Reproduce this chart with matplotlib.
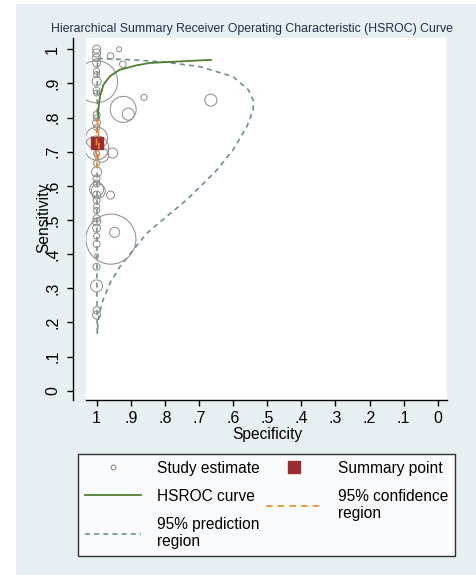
import numpy as np
import matplotlib
matplotlib.use("Agg")
import matplotlib.pyplot as plt
from matplotlib.patches import Rectangle
from matplotlib.lines import Line2D

plt.rcParams['font.family'] = ['Liberation Sans', 'DejaVu Sans']

# study estimates: specificity, sensitivity, marker radius (px)
study_spec = [1.0, 0.934, 0.959, 0.923, 1.0, 1.0, 1.0, 1.0, 1.0, 1.0, 1.0, 1.0, 1.0,
              0.861, 0.922, 0.907, 0.665, 1.0, 1.0, 1.0, 1.0, 1.0, 1.0, 0.953, 1.0,
              0.985, 1.0, 1.0, 1.0, 1.0, 1.0, 0.995, 1.0, 0.959, 1.0, 1.0, 1.0, 1.0,
              1.0, 1.0, 1.0, 0.958, 0.947, 1.0, 1.0, 1.0, 1.0, 1.0, 1.0]
study_sens = [1.0, 1.0, 0.98, 0.956, 0.989, 0.975, 0.96, 0.936, 0.926, 0.906, 0.905, 0.879, 0.872,
              0.859, 0.824, 0.81, 0.851, 0.808, 0.799, 0.784, 0.771, 0.74, 0.711, 0.696, 0.695,
              0.69, 0.666, 0.641, 0.622, 0.607, 0.59, 0.585, 0.573, 0.573, 0.558, 0.541, 0.528, 0.505,
              0.495, 0.476, 0.453, 0.444, 0.464, 0.43, 0.395, 0.363, 0.307, 0.236, 0.222]
study_r = [4, 2.5, 3.3, 3.3, 4, 4, 4, 3, 3, 4.5, 21, 3.5, 3,
           3, 13, 6, 6, 3.5, 3, 4, 3, 11, 12, 5, 3,
           7, 3, 5, 3.5, 3.5, 7, 7, 4, 4, 3.5, 3, 3, 3.5,
           4, 4, 3, 25, 5, 3.5, 2, 3.5, 6, 3.5, 4]

summary_spec = 0.999
summary_sens = 0.726

hsroc_spec = [0.995, 0.995, 0.99, 0.98, 0.961, 0.932, 0.883, 0.844, 0.765, 0.665]
hsroc_sens = [0.80, 0.823, 0.862, 0.896, 0.921, 0.94, 0.953, 0.96, 0.964, 0.969]

conf_spec = [0.999, 0.996, 0.994, 0.993, 0.994, 0.996, 0.999, 1.0, 1.0, 1.0, 1.0, 1.0, 0.999]
conf_sens = [0.795, 0.78, 0.755, 0.726, 0.695, 0.67, 0.655, 0.67, 0.70, 0.726, 0.755, 0.78, 0.795]

pred_spec = [0.997, 0.971, 0.893, 0.795, 0.697, 0.6, 0.555, 0.541, 0.541, 0.56, 0.6, 0.648,
             0.697, 0.736, 0.795, 0.853, 0.893, 0.932, 0.961, 0.985, 0.995, 0.998,
             0.999, 0.999, 0.998, 0.998, 0.997]
pred_sens = [0.973, 0.972, 0.969, 0.962, 0.949, 0.92, 0.881, 0.851, 0.822, 0.773, 0.705, 0.646,
             0.597, 0.559, 0.51, 0.461, 0.412, 0.363, 0.315, 0.256, 0.207, 0.168,
             0.3, 0.5, 0.7, 0.9, 0.973]

ticks = [0, .1, .2, .3, .4, .5, .6, .7, .8, .9, 1]
tick_labels = ['0', '.1', '.2', '.3', '.4', '.5', '.6', '.7', '.8', '.9', '1']

W, H = 476, 575
fig = plt.figure(figsize=(W / 100, H / 100), dpi=100)
fig.patch.set_facecolor('white')
fig.patches.append(Rectangle((16 / W, 0), 1, 1 - 4 / H, transform=fig.transFigure,
                             facecolor='#e8eff3', edgecolor='none', zorder=-10))

ax = fig.add_axes([86 / W, 1 - 400 / H, (447 - 86) / W, (400 - 38) / H])
ax.set_facecolor('white')

sizes = [(1.44 * r) ** 2 for r in study_r]
ax.scatter(study_spec, study_sens, s=sizes, facecolors='none', edgecolors='#909090',
           linewidths=0.75, zorder=3)
ax.plot(pred_spec, pred_sens, color='#6f8f8c', lw=1.2, ls=(0, (3, 2.5)), zorder=2)
ax.plot(hsroc_spec, hsroc_sens, color='#4e7d2c', lw=1.3, zorder=4)
ax.plot(summary_spec, summary_sens, 's', color='#9b2d30', ms=8.6, zorder=5)
ax.plot(conf_spec, conf_sens, color='#e8892a', lw=1.2, ls=(0, (4, 3)), zorder=6)

ax.set_xlim(1.031, -0.027)
ax.set_ylim(-0.027, 1.033)
ax.set_xticks(ticks)
ax.set_xticklabels(tick_labels)
ax.set_yticks(ticks)
ax.set_yticklabels(tick_labels)
ax.spines['top'].set_visible(False)
ax.spines['right'].set_visible(False)
ax.spines['left'].set_position(('outward', 9.4))
ax.spines['left'].set_linewidth(1.0)
ax.spines['bottom'].set_linewidth(1.0)
ax.tick_params(axis='both', direction='out', length=4.3, width=1.0, labelsize=11.5)
ax.tick_params(axis='x', pad=3.6)
ax.tick_params(axis='y', pad=5)
for lbl in ax.get_yticklabels():
    lbl.set_rotation(90)
    lbl.set_verticalalignment('center')

fig.text(252 / W, 1 - 29 / H,
         'Hierarchical Summary Receiver Operating Characteristic (HSROC) Curve',
         ha='center', va='center', fontsize=8.8, color='#1f2e4d')
fig.text(267 / W, 1 - 435 / H, 'Specificity', ha='center', va='center', fontsize=11.2)
fig.text(44 / W, 1 - 218 / H, 'Sensitivity', ha='center', va='center', fontsize=11.2,
         rotation=90)

handles = [
    Line2D([], [], ls='none', marker='o', ms=3.5, mfc='none', mec='#8c8c8c', mew=0.8),
    Line2D([], [], color='#4e7d2c', lw=1.3),
    Line2D([], [], color='#6f8f8c', lw=1.2, ls=(0, (3, 2.5))),
    Line2D([], [], ls='none', marker='s', ms=8, color='#9b2d30'),
    Line2D([], [], color='#e8892a', lw=1.2, ls=(0, (4, 3))),
]
labels = ['Study estimate', 'HSROC curve', '95% prediction\nregion',
          'Summary point', '95% confidence\nregion']
leg = fig.legend(handles, labels, ncol=2, loc='center',
                 bbox_to_anchor=(78 / W, 1 - 558 / H, (455 - 78) / W, (558 - 452) / H),
                 mode='expand', fontsize=11.2, frameon=True, fancybox=False,
                 edgecolor='black', handlelength=3.6, handletextpad=1.0,
                 labelspacing=0.85, borderpad=0.45, borderaxespad=0)
leg.get_frame().set_linewidth(1.0)
leg.get_frame().set_facecolor('white')

fig.savefig('out.png', dpi=100)
